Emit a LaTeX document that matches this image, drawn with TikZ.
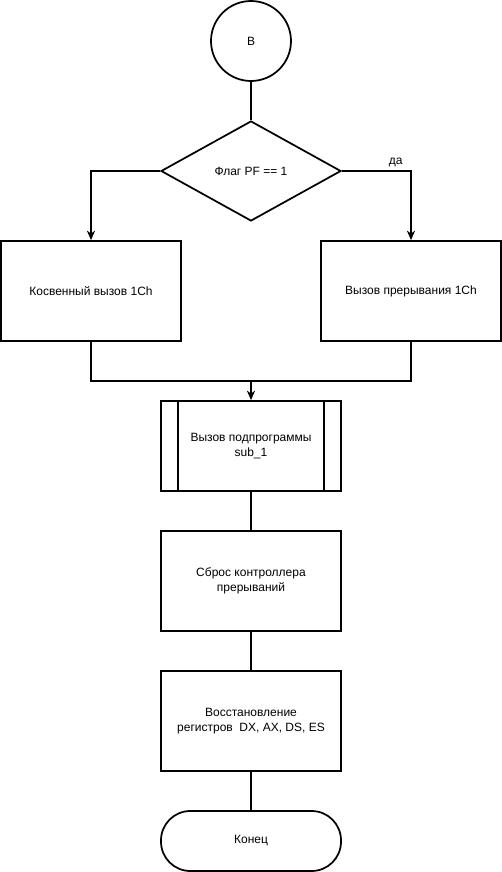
\documentclass[tikz,border=0pt]{standalone}
\usepackage{fontspec}
\setmainfont{Liberation Sans}
\usetikzlibrary{arrows.meta,shapes.geometric}
\begin{document}
\begin{tikzpicture}[x=0.75pt,y=-0.75pt,
  every node/.style={font=\fontsize{9}{11}\selectfont, align=center},
  ln/.style={line width=1.3pt},
  arr/.style={ln,-{Stealth[length=7pt,width=6pt,inset=2pt]}},
  boxs/.style={draw,line width=1.3pt,minimum width=135pt,minimum height=75pt,inner sep=0pt}
]
\useasboundingbox (0,0) rectangle (502,872);
\node[draw,ln,circle,minimum size=60pt,inner sep=0pt] (start) at (251,41) {В};
\node[draw,ln,diamond,minimum width=135pt,minimum height=75pt,inner sep=0pt,aspect=1.8] (dec) at (251,171) {Флаг PF == 1};
\node[boxs] (left) at (91,291) {Косвенный вызов 1Ch};
\node[boxs] (right) at (411,291) {Вызов прерывания 1Ch};
\node[boxs,minimum height=67.5pt] (sub) at (251,446) {Вызов подпрограммы\\sub\_1};
\draw[ln] ([xshift=13.5pt]sub.north west) -- ([xshift=13.5pt]sub.south west);
\draw[ln] ([xshift=-13.5pt]sub.north east) -- ([xshift=-13.5pt]sub.south east);
\node[boxs] (reset) at (251,581) {Сброс контроллера\\прерываний};
\node[boxs] (restore) at (251,721) {Восстановление\\регистров\ \ DX, AX, DS, ES};
\node[draw,ln,minimum width=135pt,minimum height=45pt,rounded corners=22pt,inner sep=0pt] (end) at (251,841) {Конец};
\coordinate (m) at (251,381);
\draw[ln] (start) -- (dec);
\draw[arr] (dec.west) -| (left.north);
\draw[arr] (dec.east) -| node[pos=0.39,above,inner sep=1pt,yshift=1.5pt] {да} (right.north);
\draw[ln] (left.south) |- (m);
\draw[ln] (right.south) |- (m);
\draw[arr] (m) -- (sub.north);
\draw[ln] (sub) -- (reset);
\draw[ln] (reset) -- (restore);
\draw[ln] (restore) -- (end);
\end{tikzpicture}
\end{document}
